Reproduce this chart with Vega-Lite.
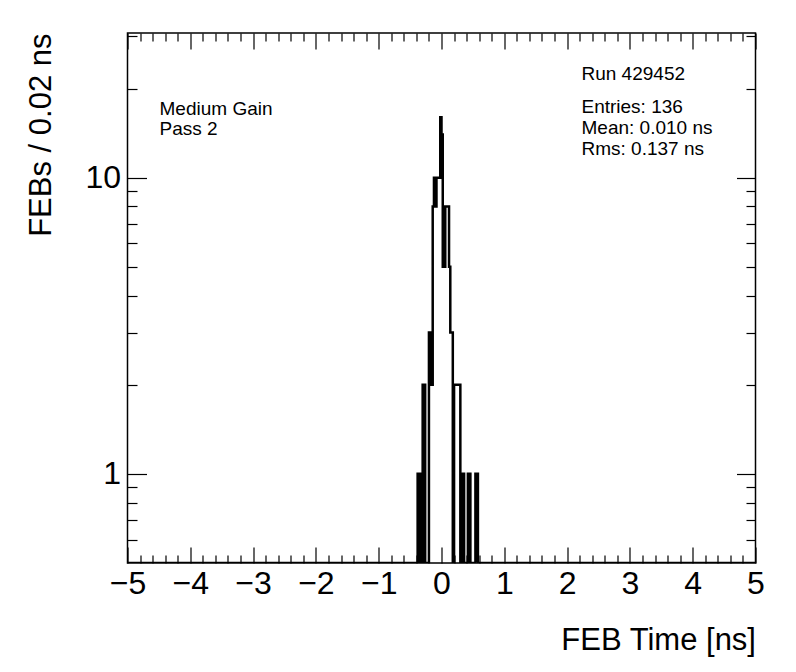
{
  "$schema": "https://vega.github.io/schema/vega-lite/v6.json",
  "width": 628,
  "height": 530,
  "autosize": {"type": "none"},
  "padding": {"left": 127.5, "top": 33, "right": 40.5, "bottom": 109},
  "background": "white",
  "config": {
    "view": {"stroke": "#000", "strokeWidth": 1.5},
    "font": "Liberation Sans",
    "axis": {"grid": false, "domain": false, "labelFont": "Liberation Sans", "titleFont": "Liberation Sans", "tickColor": "#000", "labelColor": "#000", "titleColor": "#000", "titleFontWeight": "normal", "tickWidth": 1.2, "labelFlush": false, "labelOverlap": false}
  },
  "data": {"values": [
    {"t": -5, "n": 0},
    {"t": -0.40, "n": 0},
    {"t": -0.38, "n": 1},
    {"t": -0.36, "n": 1},
    {"t": -0.34, "n": 0},
    {"t": -0.32, "n": 0},
    {"t": -0.30, "n": 2},
    {"t": -0.28, "n": 2},
    {"t": -0.26, "n": 0},
    {"t": -0.24, "n": 0},
    {"t": -0.22, "n": 0},
    {"t": -0.20, "n": 3},
    {"t": -0.18, "n": 3},
    {"t": -0.16, "n": 2},
    {"t": -0.14, "n": 8},
    {"t": -0.12, "n": 10},
    {"t": -0.10, "n": 8},
    {"t": -0.08, "n": 10},
    {"t": -0.06, "n": 10},
    {"t": -0.04, "n": 10},
    {"t": -0.02, "n": 16},
    {"t": 0.00, "n": 14},
    {"t": 0.02, "n": 5},
    {"t": 0.04, "n": 5},
    {"t": 0.06, "n": 8},
    {"t": 0.08, "n": 8},
    {"t": 0.10, "n": 8},
    {"t": 0.12, "n": 5},
    {"t": 0.14, "n": 3},
    {"t": 0.16, "n": 3},
    {"t": 0.18, "n": 0},
    {"t": 0.20, "n": 2},
    {"t": 0.22, "n": 2},
    {"t": 0.24, "n": 2},
    {"t": 0.26, "n": 2},
    {"t": 0.28, "n": 2},
    {"t": 0.30, "n": 0},
    {"t": 0.32, "n": 0},
    {"t": 0.34, "n": 1},
    {"t": 0.36, "n": 0},
    {"t": 0.38, "n": 0},
    {"t": 0.40, "n": 0},
    {"t": 0.42, "n": 1},
    {"t": 0.44, "n": 1},
    {"t": 0.46, "n": 0},
    {"t": 0.48, "n": 0},
    {"t": 0.50, "n": 0},
    {"t": 0.52, "n": 0},
    {"t": 0.54, "n": 1},
    {"t": 0.56, "n": 1},
    {"t": 0.58, "n": 0},
    {"t": 0.60, "n": 0},
    {"t": 5, "n": 0}
  ]},
  "layer": [
    {
      "mark": {"type": "line", "interpolate": "step-after", "color": "#000", "strokeWidth": 2.5, "clip": true, "invalid": "show"},
      "encoding": {
        "x": {"field": "t", "type": "quantitative", "scale": {"domain": [-5, 5], "nice": false, "zero": false},
          "axis": {"orient": "bottom", "values": [-5, -4, -3, -2, -1, 0, 1, 2, 3, 4, 5], "ticks": false, "labelFontSize": 32, "labelPadding": 5, "format": "d", "title": "FEB Time [ns]", "titleFontSize": 31, "titleAlign": "right", "titleBaseline": "alphabetic", "titleX": 628, "titleY": 86}},
        "y": {"field": "n", "type": "quantitative", "scale": {"type": "log", "domain": [0.5, 30.8], "clamp": true, "nice": false},
          "axis": {"orient": "left", "values": [1, 10], "ticks": false, "labelFontSize": 32, "labelPadding": 7, "format": "d", "title": "FEBs / 0.02 ns", "titleFontSize": 31, "titleAngle": -90, "titleAlign": "right", "titleBaseline": "alphabetic", "titleX": -77, "titleY": 0}}
      }
    },
    {
      "mark": {"type": "line", "opacity": 0, "invalid": "show"},
      "encoding": {
        "x": {"field": "t", "type": "quantitative", "scale": {"domain": [-5, 5], "nice": false, "zero": false},
          "axis": {"orient": "bottom", "values": [-5, -4, -3, -2, -1, 0, 1, 2, 3, 4, 5], "labels": false, "tickSize": -16, "title": null}},
        "y": {"field": "n", "type": "quantitative", "scale": {"type": "log", "domain": [0.5, 30.8], "clamp": true, "nice": false},
          "axis": {"orient": "left", "values": [1, 10], "labels": false, "tickSize": -19, "title": null}}
      }
    },
    {
      "mark": {"type": "line", "opacity": 0, "invalid": "show"},
      "encoding": {
        "x": {"field": "t", "type": "quantitative", "scale": {"domain": [-5, 5], "nice": false, "zero": false},
          "axis": {"orient": "bottom", "values": [-4.8, -4.6, -4.4, -4.2, -3.8, -3.6, -3.4, -3.2, -2.8, -2.6, -2.4, -2.2, -1.8, -1.6, -1.4, -1.2, -0.8, -0.6, -0.4, -0.2, 0.2, 0.4, 0.6, 0.8, 1.2, 1.4, 1.6, 1.8, 2.2, 2.4, 2.6, 2.8, 3.2, 3.4, 3.6, 3.8, 4.2, 4.4, 4.6, 4.8], "labels": false, "tickSize": -8, "title": null}},
        "y": {"field": "n", "type": "quantitative", "scale": {"type": "log", "domain": [0.5, 30.8], "clamp": true, "nice": false},
          "axis": {"orient": "left", "values": [0.6, 0.7, 0.8, 0.9, 2, 3, 4, 5, 6, 7, 8, 9, 20, 30], "labels": false, "tickSize": -9.5, "title": null}}
      }
    },
    {
      "mark": {"type": "line", "opacity": 0, "invalid": "show"},
      "encoding": {
        "x": {"field": "t", "type": "quantitative", "scale": {"domain": [-5, 5], "nice": false, "zero": false},
          "axis": {"orient": "top", "values": [-5, -4, -3, -2, -1, 0, 1, 2, 3, 4, 5], "labels": false, "tickSize": -16, "title": null}},
        "y": {"field": "n", "type": "quantitative", "scale": {"type": "log", "domain": [0.5, 30.8], "clamp": true, "nice": false},
          "axis": {"orient": "right", "values": [1, 10], "labels": false, "tickSize": -19, "title": null}}
      }
    },
    {
      "mark": {"type": "line", "opacity": 0, "invalid": "show"},
      "encoding": {
        "x": {"field": "t", "type": "quantitative", "scale": {"domain": [-5, 5], "nice": false, "zero": false},
          "axis": {"orient": "top", "values": [-4.8, -4.6, -4.4, -4.2, -3.8, -3.6, -3.4, -3.2, -2.8, -2.6, -2.4, -2.2, -1.8, -1.6, -1.4, -1.2, -0.8, -0.6, -0.4, -0.2, 0.2, 0.4, 0.6, 0.8, 1.2, 1.4, 1.6, 1.8, 2.2, 2.4, 2.6, 2.8, 3.2, 3.4, 3.6, 3.8, 4.2, 4.4, 4.6, 4.8], "labels": false, "tickSize": -8, "title": null}},
        "y": {"field": "n", "type": "quantitative", "scale": {"type": "log", "domain": [0.5, 30.8], "clamp": true, "nice": false},
          "axis": {"orient": "right", "values": [0.6, 0.7, 0.8, 0.9, 2, 3, 4, 5, 6, 7, 8, 9, 20, 30], "labels": false, "tickSize": -9.5, "title": null}}
      }
    },
    {
      "data": {"values": [{"label": "Medium Gain\nPass 2"}]},
      "mark": {"type": "text", "fontSize": 19, "align": "left", "baseline": "alphabetic", "lineBreak": "\n", "lineHeight": 20, "color": "#000"},
      "encoding": {
        "text": {"field": "label"},
        "x": {"datum": -4.49, "type": "quantitative", "scale": {"domain": [-5, 5], "nice": false, "zero": false}, "axis": null},
        "y": {"datum": 16.29, "type": "quantitative", "scale": {"type": "log", "domain": [0.5, 30.8], "clamp": true, "nice": false}, "axis": null}
      }
    },
    {
      "data": {"values": [{"label": "Run 429452"}]},
      "mark": {"type": "text", "fontSize": 19, "align": "left", "baseline": "alphabetic", "color": "#000"},
      "encoding": {
        "text": {"field": "label"},
        "x": {"datum": 2.229, "type": "quantitative", "scale": {"domain": [-5, 5], "nice": false, "zero": false}, "axis": null},
        "y": {"datum": 21.39, "type": "quantitative", "scale": {"type": "log", "domain": [0.5, 30.8], "clamp": true, "nice": false}, "axis": null}
      }
    },
    {
      "data": {"values": [{"label": "Entries: 136\nMean: 0.010 ns\nRms: 0.137 ns"}]},
      "mark": {"type": "text", "fontSize": 19, "align": "left", "baseline": "alphabetic", "lineBreak": "\n", "lineHeight": 21, "color": "#000"},
      "encoding": {
        "text": {"field": "label"},
        "x": {"datum": 2.229, "type": "quantitative", "scale": {"domain": [-5, 5], "nice": false, "zero": false}, "axis": null},
        "y": {"datum": 16.55, "type": "quantitative", "scale": {"type": "log", "domain": [0.5, 30.8], "clamp": true, "nice": false}, "axis": null}
      }
    }
  ],
  "resolve": {"axis": {"x": "independent", "y": "independent"}}
}
